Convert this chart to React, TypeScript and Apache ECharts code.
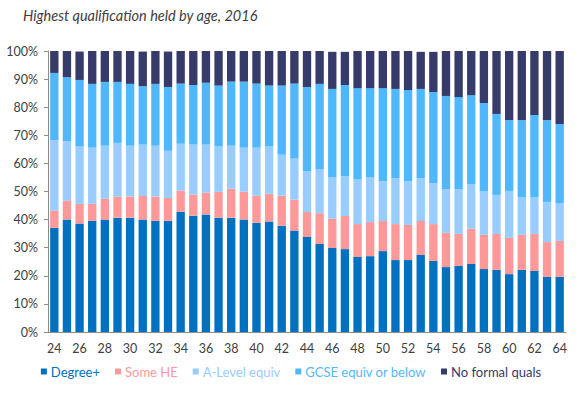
import React, { useEffect, useRef } from "react";
import * as echarts from "echarts";

const ages = [
  "24","25","26","27","28","29","30","31","32","33","34","35","36","37","38","39","40","41","42","43","44",
  "45","46","47","48","49","50","51","52","53","54","55","56","57","58","59","60","61","62","63","64",
];

const degree = [
  37.1, 40.0, 38.6, 39.6, 40.0, 40.7, 40.7, 40.0, 39.6, 39.6, 42.8, 41.4, 41.8, 40.7, 40.7, 40.0, 38.9, 39.3, 37.8, 36.1, 33.8,
  31.3, 29.9, 29.5, 26.7, 27.0, 28.8, 25.6, 25.6, 27.4, 25.3, 23.1, 23.5, 24.2, 22.4, 22.1, 20.6, 22.1, 21.7, 19.6, 19.6,
];
const someHE = [
  6.1, 6.7, 7.0, 6.0, 7.4, 7.5, 7.5, 8.4, 8.6, 8.1, 7.5, 7.5, 7.8, 9.2, 10.3, 9.9, 9.6, 9.9, 10.7, 11.0, 8.9,
  11.0, 10.4, 11.8, 11.7, 12.1, 10.7, 12.8, 12.5, 12.1, 13.1, 12.2, 11.4, 12.6, 12.2, 12.8, 12.9, 12.5, 13.2, 12.4, 12.8,
];
const aLevel = [
  25.1, 21.3, 20.4, 20.0, 18.9, 19.1, 18.1, 18.3, 18.1, 16.8, 16.7, 17.8, 17.1, 16.1, 15.3, 15.7, 17.1, 16.8, 14.6, 14.6, 14.6,
  15.7, 14.9, 14.2, 16.0, 16.1, 14.2, 16.4, 15.6, 15.3, 14.6, 15.6, 16.0, 15.9, 15.6, 13.9, 16.7, 13.4, 13.1, 14.3, 13.5,
];
const gcse = [
  23.9, 22.7, 23.7, 22.7, 22.7, 21.7, 22.0, 20.8, 22.0, 22.7, 21.4, 21.2, 22.0, 21.7, 22.8, 23.5, 22.8, 21.7, 24.6, 26.7, 29.9,
  30.3, 31.3, 32.4, 32.4, 31.6, 33.1, 31.7, 32.4, 31.7, 32.4, 33.1, 32.7, 31.6, 31.3, 28.8, 25.2, 27.4, 29.2, 29.1, 28.1,
];
const noQuals = [
  7.8, 9.3, 10.1, 11.7, 11.0, 11.0, 11.7, 12.3, 11.7, 12.6, 11.6, 12.1, 11.3, 12.3, 10.9, 10.9, 11.6, 12.3, 12.3, 11.6, 12.8,
  11.7, 13.2, 11.8, 13.2, 13.2, 13.2, 13.5, 13.9, 13.2, 14.3, 16.0, 16.4, 15.7, 18.5, 22.4, 24.6, 24.6, 22.8, 24.6, 26.0,
];

const seriesNames = ["Degree+", "Some HE", "A-Level equiv", "GCSE equiv or below", "No formal quals"];
const seriesColors = ["#0070c0", "#ff9999", "#99ccff", "#4fb8fd", "#373b69"];
const seriesData = [degree, someHE, aLevel, gcse, noQuals];

export default function App() {
  const ref = useRef<HTMLDivElement>(null);
  useEffect(() => {
    if (!ref.current) return;
    const chart = echarts.init(ref.current, null, { renderer: "svg" });
    const font = "Lato, 'Open Sans', sans-serif";
    chart.setOption({
      animation: false,
      textStyle: { fontFamily: font },
      title: {
        text: "Highest qualification held by age, 2016",
        left: 18,
        top: 3,
        textStyle: { fontSize: 14.5, fontStyle: "italic", fontWeight: "normal", color: "#404040", fontFamily: font },
      },
      legend: {
        bottom: 14,
        left: "center",
        itemWidth: 6,
        itemHeight: 6,
        itemGap: 15,
        icon: "rect",
        data: seriesNames.map((n, i) => ({ name: n, textStyle: { color: seriesColors[i] } })),
        textStyle: { fontSize: 13, fontFamily: font, padding: [0, 0, 0, -1] },
      },
      grid: { left: 48, right: 16, top: 51, bottom: 65 },
      xAxis: {
        type: "category",
        data: ages,
        axisLine: { lineStyle: { color: "#8c8c8c", width: 1 } },
        axisTick: { show: false },
        axisLabel: { interval: 1, color: "#404040", fontSize: 12.5, margin: 10, fontFamily: font },
      },
      yAxis: {
        type: "value",
        min: 0,
        max: 100,
        interval: 10,
        axisLine: { show: true, lineStyle: { color: "#8c8c8c", width: 1 } },
        axisTick: { show: true, length: 4, lineStyle: { color: "#8c8c8c" } },
        splitLine: { show: false },
        axisLabel: { formatter: "{value}%", color: "#404040", fontSize: 12.5, margin: 10, fontFamily: font },
      },
      series: seriesNames.map((n, i) => ({
        name: n,
        type: "bar",
        stack: "total",
        barWidth: "66%",
        itemStyle: { color: seriesColors[i] },
        data: seriesData[i],
      })),
    });
    return () => chart.dispose();
  }, []);
  return <div ref={ref} style={{ width: 582, height: 397, position: "absolute", left: 0, top: 0 }} />;
}
